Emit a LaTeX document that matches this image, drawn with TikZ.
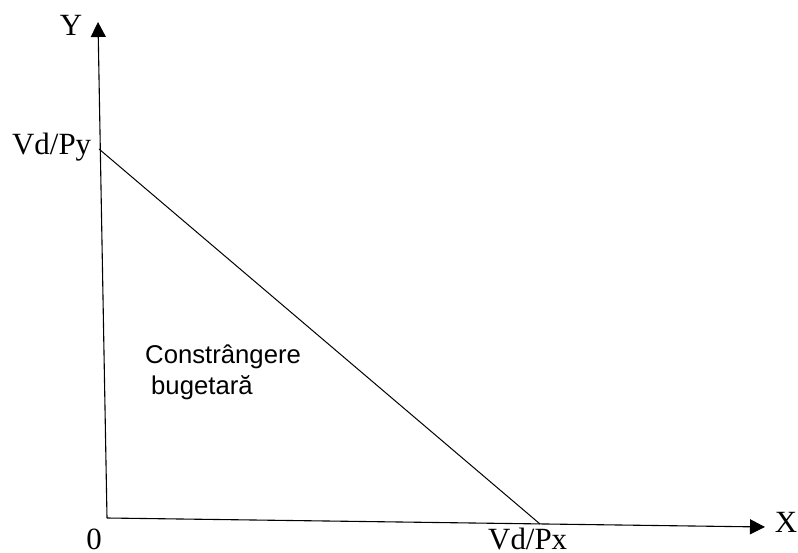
\documentclass[tikz,border=0pt]{standalone}
\usepackage{fontspec}
\setmainfont{Liberation Serif}
\setsansfont{Liberation Sans}
\usetikzlibrary{arrows.meta}
\tikzset{
  axisline/.style={line width=1.1bp, -{Triangle[length=15bp,width=15bp]}},
  budgetline/.style={line width=1bp},
  seriflabel/.style={inner sep=0pt, font=\fontsize{31}{37}\selectfont},
  sanslabel/.style={inner sep=0pt, font=\sffamily\fontsize{25.8}{30}\selectfont},
}
\begin{document}
\begin{tikzpicture}[x=1bp,y=-1bp]
\useasboundingbox[fill=white] (0,0) rectangle (798,553);
\coordinate (O) at (107,518);
\coordinate (Ytip) at (98,22);
\coordinate (Xtip) at (765,527);
\coordinate (A) at (99,149);
\coordinate (B) at (540,524);
\draw[axisline] (O) -- (Ytip);
\draw[axisline] (O) -- (Xtip);
\draw[budgetline] (A) -- (B);
\node[seriflabel, anchor=base] (ylab) at (71,36) {Y};
\node[seriflabel, anchor=base west] (vdpy) at (12,155) {Vd/Py};
\node[seriflabel, anchor=base] (zero) at (94,549.5) {0};
\node[seriflabel, anchor=base west] (vdpx) at (488,549.5) {Vd/Px};
\node[seriflabel, anchor=base] (xlab) at (786,532) {X};
\node[sanslabel, anchor=base west] (c1) at (145,363) {Constrângere};
\node[sanslabel, anchor=base west] (c2) at (151,394) {bugetară};
\end{tikzpicture}
\end{document}
